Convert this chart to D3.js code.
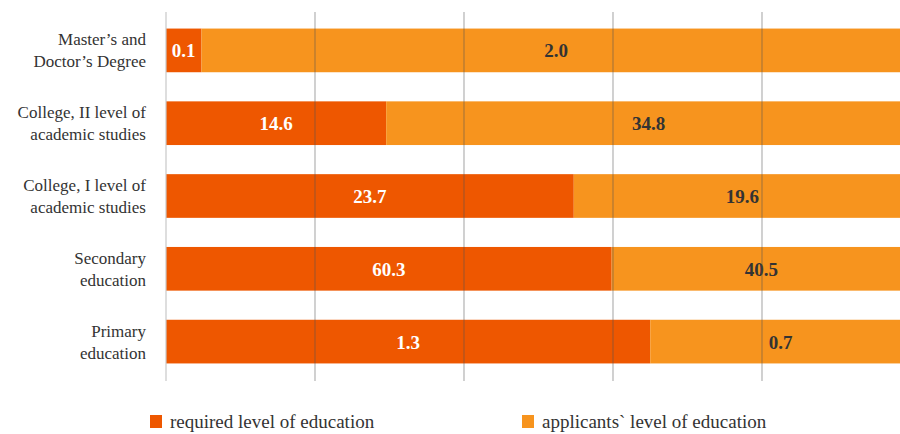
<!DOCTYPE html>
<html lang="en">
  <head>
    <meta charset="utf-8">
    <title>Education levels</title>
    <script src="https://d3js.org/d3.v7.min.js"></script>
    <style>
      body { margin: 0; background: #fff; }
    </style>
  </head>

  <body>

    <script>

// data

  var categories = [
    ["Master\u2019s and", "Doctor\u2019s Degree"],
    ["College, II level of", "academic studies"],
    ["College, I level of", "academic studies"],
    ["Secondary", "education"],
    ["Primary", "education"]
  ];
  var required = [0.1, 14.6, 23.7, 60.3, 1.3];
  var applicants = [2.0, 34.8, 19.6, 40.5, 0.7];
  var seriesNames = ["required level of education", "applicants` level of education"];
  var gridTicks = [0, 0.2, 0.4, 0.6, 0.8, 1];

  var colors = ["#ee5700", "#f7941e"];
  var font = "Liberation Serif";

// svg and scales

  var svg = d3.select("body")
    .append("svg")
      .attr("width", 900)
      .attr("height", 434)
      .attr("font-family", font);

  var x = d3.scaleLinear()
      .domain([0, 1])
      .range([166, 911]);

  var y = d3.scaleBand()
      .domain(d3.range(categories.length))
      .range([14, 378])
      .paddingInner(0.4)
      .paddingOuter(0.2);

  var rows = categories.map((c, i) => {
    var total = required[i] + applicants[i];
    return { i: i, req: required[i], app: applicants[i], share: required[i] / total };
  });

// bars

  var g = svg.append("g");

  g.selectAll(".req")
      .data(rows)
    .enter().append("rect")
      .attr("class", "req")
      .attr("x", x(0))
      .attr("y", d => y(d.i))
      .attr("width", d => x(d.share) - x(0))
      .attr("height", y.bandwidth())
      .attr("fill", colors[0]);

  g.selectAll(".app")
      .data(rows)
    .enter().append("rect")
      .attr("class", "app")
      .attr("x", d => x(d.share))
      .attr("y", d => y(d.i))
      .attr("width", d => x(1) - x(d.share))
      .attr("height", y.bandwidth())
      .attr("fill", colors[1]);

// grid lines on top of bars

  svg.selectAll(".grid")
      .data(gridTicks)
    .enter().append("line")
      .attr("x1", d => x(d))
      .attr("x2", d => x(d))
      .attr("y1", 12)
      .attr("y2", 381)
      .attr("stroke", d => d == 0 ? "#c8c8c8" : "#555")
      .attr("stroke-opacity", d => d == 0 ? 1 : 0.45)
      .attr("stroke-width", 1.2);

// value labels

  g.selectAll(".reqLabel")
      .data(rows)
    .enter().append("text")
      .attr("x", d => (x(0) + x(d.share)) / 2)
      .attr("y", d => y(d.i) + y.bandwidth() / 2 + 7)
      .attr("text-anchor", "middle")
      .attr("font-size", 19)
      .attr("font-weight", "bold")
      .attr("fill", "#fff")
      .text(d => d.req.toFixed(1));

  g.selectAll(".appLabel")
      .data(rows)
    .enter().append("text")
      .attr("x", d => (x(d.share) + x(1)) / 2)
      .attr("y", d => y(d.i) + y.bandwidth() / 2 + 7)
      .attr("text-anchor", "middle")
      .attr("font-size", 19)
      .attr("font-weight", "bold")
      .attr("fill", "#333")
      .text(d => d.app.toFixed(1));

// category labels

  var cat = svg.selectAll(".cat")
      .data(rows)
    .enter().append("text")
      .attr("text-anchor", "end")
      .attr("font-size", 17)
      .attr("fill", "#333");

  cat.selectAll("tspan")
      .data(d => categories[d.i].map(t => ({ t: t, i: d.i })))
    .enter().append("tspan")
      .attr("x", 146)
      .attr("y", (d, k) => y(d.i) + y.bandwidth() / 2 - 5 + k * 22)
      .text(d => d.t);

// legend

  var legend = svg.selectAll(".legend")
      .data(seriesNames)
    .enter().append("g")
      .attr("transform", (d, i) => "translate(" + (150 + i * 372) + ",415)");

  legend.append("rect")
      .attr("width", 12)
      .attr("height", 13)
      .attr("fill", (d, i) => colors[i]);

  legend.append("text")
      .attr("x", 20)
      .attr("y", 13)
      .attr("font-size", 19)
      .attr("fill", "#333")
      .text(d => d);

    </script>

  </body>

</html>
